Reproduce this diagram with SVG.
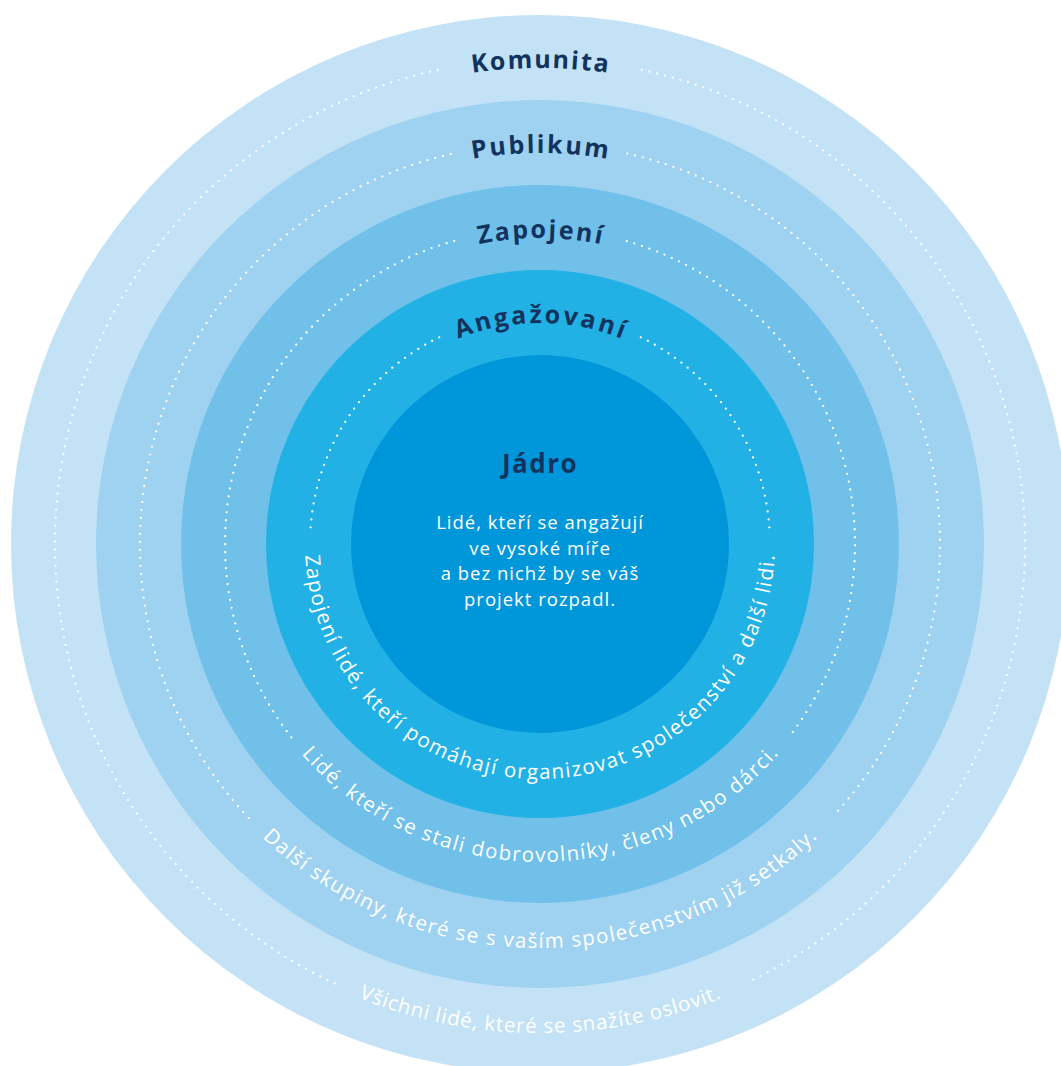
<svg xmlns="http://www.w3.org/2000/svg" width="1061" height="1066" viewBox="0 0 1061 1066">
<style>
.lbl{font-family:"Open Sans","Noto Sans",sans-serif;font-weight:700;font-size:25px;fill:#12335e;}
.arc{font-family:"Open Sans","Noto Sans",sans-serif;font-weight:400;font-size:20.5px;fill:#ffffff;}
.dot{fill:none;stroke:#ffffff;stroke-width:2.3;stroke-linecap:round;stroke-dasharray:0 8;}
.body{font-family:"Open Sans","Noto Sans",sans-serif;font-size:18.5px;letter-spacing:1px;fill:#ffffff;text-anchor:middle;}
</style>
<defs>
<path id="t5" d="M540,1020 A476,476 0 0 1 540,68 A476,476 0 0 1 540,1020"/>
<path id="t4" d="M540,935 A391,391 0 0 1 540,153 A391,391 0 0 1 540,935"/>
<path id="t3" d="M540,850 A306,306 0 0 1 540,238 A306,306 0 0 1 540,850"/>
<path id="t2" d="M540,765 A221,221 0 0 1 540,323 A221,221 0 0 1 540,765"/>
<path id="b2" d="M540,309 A235,235 0 0 0 540,779 A235,235 0 0 0 540,309"/>
<path id="b3" d="M540,226 A318,318 0 0 0 540,862 A318,318 0 0 0 540,226"/>
<path id="b4" d="M540,140 A404,404 0 0 0 540,948 A404,404 0 0 0 540,140"/>
<path id="b5" d="M540,55 A489,489 0 0 0 540,1033 A489,489 0 0 0 540,55"/>
</defs>

<g id="komunita">
<circle cx="540" cy="544" r="529" fill="#c3e2f5"/>
<text class="lbl"><textPath href="#t5" startOffset="50%" text-anchor="middle" textLength="136" lengthAdjust="spacing">Komunita</textPath></text>
<text class="arc"><textPath href="#b5" startOffset="50%" text-anchor="middle" textLength="372" lengthAdjust="spacing">Všichni lidé, které se snažíte oslovit.</textPath></text>
</g>
<g id="publikum">
<circle cx="540" cy="544" r="444" fill="#9fd2f0"/>
<text class="lbl"><textPath href="#t4" startOffset="50%" text-anchor="middle" textLength="136" lengthAdjust="spacing">Publikum</textPath></text>
<text class="arc"><textPath href="#b4" startOffset="50%" text-anchor="middle" textLength="612" lengthAdjust="spacing">Další skupiny, které se s vaším společenstvím již setkaly.</textPath></text>
</g>
<g id="zapojeni">
<circle cx="540" cy="544" r="359" fill="#70c0ea"/>
<text class="lbl"><textPath href="#t3" startOffset="50%" text-anchor="middle" textLength="123" lengthAdjust="spacing">Zapojení</textPath></text>
<text class="arc"><textPath href="#b3" startOffset="50%" text-anchor="middle" textLength="540" lengthAdjust="spacing">Lidé, kteří se stali dobrovolníky, členy nebo dárci.</textPath></text>
</g>
<g id="angazovani">
<circle cx="540" cy="544" r="274" fill="#22b1e4"/>
<text class="lbl"><textPath href="#t2" startOffset="50%" text-anchor="middle" textLength="168" lengthAdjust="spacing">Angažovaní</textPath></text>
<text class="arc"><textPath href="#b2" startOffset="50%" text-anchor="middle" textLength="715" lengthAdjust="spacing">Zapojení lidé, kteří pomáhají organizovat společenství a další lidi.</textPath></text>
</g>
<g id="jadro">
<circle cx="540" cy="544" r="189" fill="#0096da"/>
<text x="540" y="473" text-anchor="middle" font-family="Open Sans, Noto Sans, sans-serif" font-weight="700" font-size="26" letter-spacing="1.5" fill="#12335e">Jádro</text>
<text class="body" x="540" y="529">Lidé, kteří se angažují</text>
<text class="body" x="540" y="554.5">ve vysoké míře</text>
<text class="body" x="540" y="580">a bez nichž by se váš</text>
<text class="body" x="540" y="605.5">projekt rozpadl.</text>
</g>

<g id="connectors">
<path class="dot" d="M437.5,70 A485,485 0 0 0 338.9,985.4"/>
<path class="dot" d="M641.7,69.8 A485,485 0 0 1 749.6,981.4"/>
<path class="dot" d="M450.7,154.1 A400,400 0 0 0 250.3,819.8"/>
<path class="dot" d="M627.3,153.6 A400,400 0 0 1 834.9,814.2"/>
<path class="dot" d="M454.2,240.9 A315,315 0 0 0 291.8,737.9"/>
<path class="dot" d="M626.8,241.2 A315,315 0 0 1 789.6,736.2"/>
<path class="dot" d="M439.2,337.3 A230,230 0 0 0 310.2,535.2"/>
<path class="dot" d="M640.8,337.3 A230,230 0 0 1 769.8,535.2"/>
</g>
</svg>
